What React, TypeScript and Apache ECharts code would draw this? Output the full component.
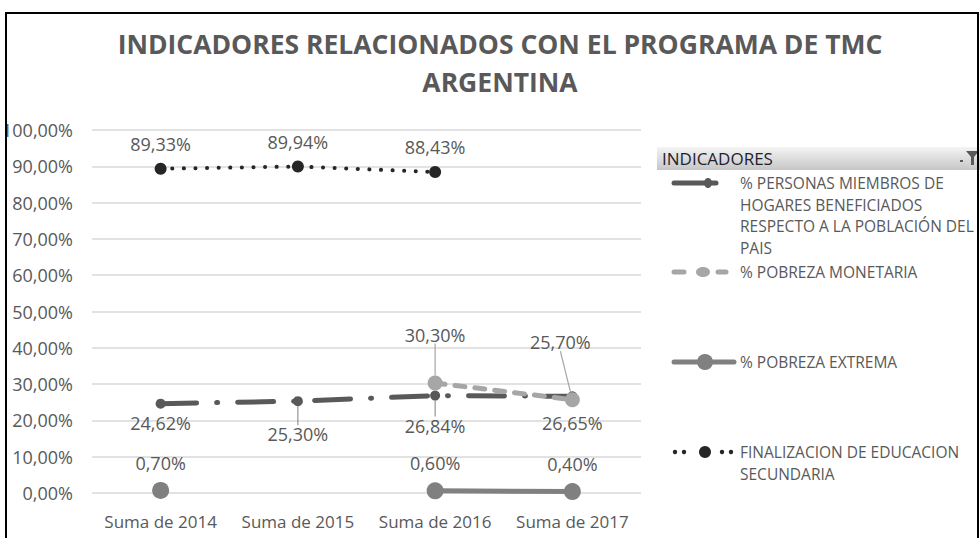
import React, { useEffect, useRef } from 'react';
import * as echarts from 'echarts';

const categories = ['Suma de 2014', 'Suma de 2015', 'Suma de 2016', 'Suma de 2017'];
const personas = [24.62, 25.3, 26.84, 26.65];
const monetaria = [null, null, 30.3, 25.7];
const extrema = [0.7, null, 0.6, 0.4];
const finalizacion = [89.33, 89.94, 88.43, null];

const seriesNames = [
  '% PERSONAS MIEMBROS DE HOGARES BENEFICIADOS RESPECTO A LA POBLACIÓN DEL PAIS',
  '% POBREZA MONETARIA',
  '% POBREZA EXTREMA',
  'FINALIZACION DE EDUCACION SECUNDARIA',
];
const legendLines = [
  ['% PERSONAS MIEMBROS DE', 'HOGARES BENEFICIADOS', 'RESPECTO A LA POBLACIÓN DEL', 'PAIS'],
  ['% POBREZA MONETARIA'],
  ['% POBREZA EXTREMA'],
  ['FINALIZACION DE EDUCACION', 'SECUNDARIA'],
];
const titleText = 'INDICADORES RELACIONADOS CON EL PROGRAMA DE TMC\nARGENTINA';
const legendTitle = 'INDICADORES';

const Y_MIN = 0;
const Y_MAX = 100;
const Y_STEP = 10;

const FONT = '"Open Sans", "Noto Sans", sans-serif';
const TXT = '#595959';
const C_PERS = '#595959';
const C_MON = '#a6a6a6';
const C_EXT = '#808080';
const C_FIN = '#262626';

const fmt = (v: number) => v.toFixed(2).replace('.', ',') + '%';

export default function App() {
  const ref = useRef<HTMLDivElement>(null);
  useEffect(() => {
    document.body.style.margin = '0';
    const chart = echarts.init(ref.current!, null, { renderer: 'svg' });
    const labelBase = {
      show: true,
      color: TXT,
      fontSize: 18,
      fontFamily: FONT,
      formatter: (p: any) => fmt(p.value),
    };
    const persDy = [0, 14, 11, 8];
    const persLine = [false, true, true, false];
    const monShift = [
      [0, 0],
      [0, 0],
      [0, -27],
      [-12, -36],
    ];

    const legendX = 740;
    const lh = 21.7;
    const legendY = [172, 261, 351, 441];
    const graphic: any[] = [
      { type: 'rect', z: 100, shape: { x: 0, y: 0, width: 5, height: 538 }, style: { fill: '#fff' } },
      { type: 'rect', z: 101, shape: { x: 6, y: 13, width: 972, height: 600 }, style: { fill: 'none', stroke: '#000', lineWidth: 2 } },
      {
        type: 'rect', z: 50, shape: { x: 657, y: 147, width: 323, height: 23 },
        style: {
          fill: new echarts.graphic.LinearGradient(0, 0, 0, 1, [
            { offset: 0, color: '#f4f4f4' },
            { offset: 1, color: '#c6c6c6' },
          ]),
        },
      },
      { type: 'text', z: 51, style: { text: legendTitle, x: 662, y: 158, verticalAlign: 'middle', fontSize: 17, fontFamily: FONT, fill: '#1f1f2f' } },
      { type: 'polygon', z: 51, shape: { points: [[966, 151], [979, 151], [974, 157], [974, 165], [971, 165], [971, 157]] }, style: { fill: '#595959' } },
      { type: 'rect', z: 51, shape: { x: 960, y: 160, width: 3, height: 2 }, style: { fill: '#595959' } },
      // legend item 1
      { type: 'line', z: 51, shape: { x1: 674, y1: 183, x2: 716, y2: 183 }, style: { stroke: C_PERS, lineWidth: 5, lineCap: 'round' } },
      { type: 'ellipse', z: 52, shape: { cx: 708, cy: 183, rx: 4, ry: 5 }, style: { fill: C_PERS } },
      // legend item 2
      { type: 'line', z: 51, shape: { x1: 674, y1: 272, x2: 684, y2: 272 }, style: { stroke: C_MON, lineWidth: 5, lineCap: 'round' } },
      { type: 'ellipse', z: 52, shape: { cx: 703, cy: 272, rx: 7, ry: 5 }, style: { fill: C_MON } },
      { type: 'line', z: 51, shape: { x1: 718, y1: 272, x2: 726, y2: 272 }, style: { stroke: C_MON, lineWidth: 5, lineCap: 'round' } },
      // legend item 3
      { type: 'line', z: 51, shape: { x1: 674, y1: 362, x2: 734, y2: 362 }, style: { stroke: C_EXT, lineWidth: 5, lineCap: 'round' } },
      { type: 'circle', z: 52, shape: { cx: 705, cy: 362, r: 8 }, style: { fill: C_EXT } },
      // legend item 4
      { type: 'circle', z: 52, shape: { cx: 675, cy: 452, r: 2.2 }, style: { fill: C_FIN } },
      { type: 'circle', z: 52, shape: { cx: 684, cy: 452, r: 2.2 }, style: { fill: C_FIN } },
      { type: 'circle', z: 52, shape: { cx: 705, cy: 452, r: 6 }, style: { fill: C_FIN } },
      { type: 'circle', z: 52, shape: { cx: 722, cy: 452, r: 2.2 }, style: { fill: C_FIN } },
      { type: 'circle', z: 52, shape: { cx: 731, cy: 452, r: 2.2 }, style: { fill: C_FIN } },
    ];
    legendLines.forEach((lines, i) => {
      graphic.push({
        type: 'text', z: 51,
        style: { text: lines.join('\n'), x: legendX, y: legendY[i], fontSize: 15.5, lineHeight: lh, fontFamily: FONT, fill: TXT },
      });
    });

    chart.setOption({
      animation: false,
      title: {
        text: titleText,
        left: 495,
        top: 20,
        textAlign: 'center',
        textStyle: { fontSize: 26.5, fontWeight: 'bold', color: TXT, fontFamily: FONT, lineHeight: 38 },
      },
      grid: { left: 92, right: 339, top: 130, bottom: 45, outerBoundsMode: 'none', containLabel: false },
      xAxis: {
        type: 'category',
        data: categories,
        boundaryGap: true,
        axisLine: { show: false },
        axisTick: { show: false },
        axisLabel: { color: TXT, fontSize: 17, fontFamily: FONT, margin: 20, interval: 0, hideOverlap: false },
      },
      yAxis: {
        type: 'value',
        min: Y_MIN,
        max: Y_MAX,
        interval: Y_STEP,
        axisLine: { show: false },
        axisTick: { show: false },
        axisLabel: { color: TXT, fontSize: 18, fontFamily: FONT, margin: 19, formatter: (v: number) => fmt(v) },
        splitLine: { lineStyle: { color: '#d9d9d9', width: 1.5 } },
      },
      graphic,
      series: [
        {
          name: seriesNames[0],
          type: 'line',
          data: personas.map((v, i) => ({ value: v, labelLine: { show: persLine[i] } })),
          symbol: 'circle',
          symbolSize: 10,
          itemStyle: { color: C_PERS },
          lineStyle: { color: C_PERS, width: 5, type: [36, 20, 1, 20], cap: 'round' },
          label: { ...labelBase, position: 'bottom', distance: 5 },
          labelLine: { show: true, lineStyle: { color: '#7f7f7f', width: 1 } },
          labelLayout: (p: any) => ({ dy: persDy[p.dataIndex] }),
          z: 2,
        },
        {
          name: seriesNames[1],
          type: 'line',
          data: monetaria,
          symbol: 'circle',
          symbolSize: 15,
          itemStyle: { color: C_MON },
          lineStyle: { color: C_MON, width: 5, type: [10, 10], cap: 'round' },
          label: { ...labelBase, position: 'top', distance: 5 },
          labelLine: { show: true, lineStyle: { color: '#a6a6a6', width: 1.2 } },
          labelLayout: (p: any) => ({ dx: monShift[p.dataIndex][0], dy: monShift[p.dataIndex][1] }),
          z: 3,
        },
        {
          name: seriesNames[2],
          type: 'line',
          data: extrema,
          symbol: 'circle',
          symbolSize: 17,
          itemStyle: { color: C_EXT },
          lineStyle: { color: C_EXT, width: 5 },
          label: { ...labelBase, position: 'top', distance: 10 },
          z: 4,
        },
        {
          name: seriesNames[3],
          type: 'line',
          data: finalizacion,
          symbol: 'circle',
          symbolSize: 12,
          itemStyle: { color: C_FIN },
          lineStyle: { color: C_FIN, width: 4, type: [0.1, 11.5], cap: 'round' },
          label: { ...labelBase, position: 'top', distance: 10 },
          z: 5,
        },
      ],
    });
    return () => chart.dispose();
  }, []);
  return <div ref={ref} style={{ width: 980, height: 538 }} />;
}
